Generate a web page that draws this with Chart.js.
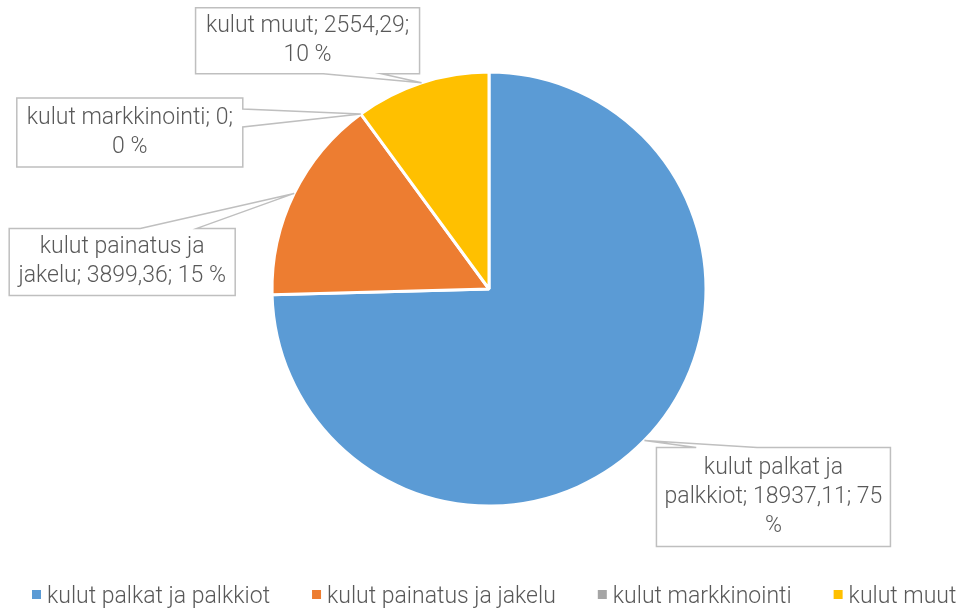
<!DOCTYPE html>
<html>
<head>
<meta charset="utf-8">
<script src="https://cdn.jsdelivr.net/npm/chart.js@4/dist/chart.umd.min.js"></script>
<style>
  html, body { margin: 0; padding: 0; background: #fff; }
  #wrap { width: 963px; height: 608px; position: relative; }
</style>
</head>
<body>
<div id="wrap"><canvas id="kulut"></canvas></div>
<script>
const labels = ['kulut palkat ja palkkiot', 'kulut painatus ja jakelu', 'kulut markkinointi', 'kulut muut'];
const values = [18937.11, 3899.36, 0, 2554.29];
const colors = ['#5B9BD5', '#ED7D31', '#A5A5A5', '#FFC000'];

// callout box placement relative to the slice anchor: dx, dy, w, h, which side the wedge sits on, wedge span along that side
const boxes = [
  { dx: 12, dy: 7, w: 234, h: 99, side: 'top', f0: 0.17, f1: 0.43, wrap: 222 },
  { dx: -285, dy: 35, w: 226, h: 67, side: 'top', f0: 0.58, f1: 0.83, wrap: 212 },
  { dx: -344, dy: -16, w: 226, h: 69, side: 'right', f0: 0.16, f1: 0.42, wrap: 210 },
  { dx: -226, dy: -75, w: 224, h: 66, side: 'bottom', f0: 0.57, f1: 0.83, wrap: 212 }
];

const FONT = 'Roboto, "Liberation Sans", sans-serif';
const TEXT = '#595959';
const FSIZE = 23;

function fmt(v) { return String(v).replace('.', ','); }

function wrapWords(ctx, text, maxW) {
  const words = text.split(' ');
  const lines = [];
  let cur = '';
  words.forEach(w => {
    const test = cur ? cur + ' ' + w : w;
    if (cur && ctx.measureText(test).width > maxW) { lines.push(cur); cur = w; }
    else cur = test;
  });
  if (cur) lines.push(cur);
  return lines;
}

// Excel style legend row along the bottom
const bottomLegend = {
  id: 'bottomLegend',
  afterDraw(chart) {
    const ctx = chart.ctx;
    ctx.save();
    ctx.font = '300 ' + FSIZE + 'px ' + FONT;
    ctx.textBaseline = 'alphabetic';
    ctx.textAlign = 'left';
    let x = 32;
    const gap = 42;
    labels.forEach((lab, i) => {
      ctx.fillStyle = colors[i];
      ctx.fillRect(x, 590, 9, 9);
      ctx.fillStyle = TEXT;
      ctx.fillText(lab, x + 15, 603);
      x += 15 + ctx.measureText(lab).width + gap;
    });
    ctx.restore();
  }
};

const callouts = {
  id: 'callouts',
  afterDatasetsDraw(chart) {
    const ctx = chart.ctx;
    const meta = chart.getDatasetMeta(0);
    const total = values.reduce((a, b) => a + b, 0);
    ctx.save();
    ctx.font = '300 ' + FSIZE + 'px ' + FONT;
    meta.data.forEach((arc, i) => {
      const b = boxes[i];
      const mid = (arc.startAngle + arc.endAngle) / 2;
      const ax = arc.x + Math.cos(mid) * arc.outerRadius;
      const ay = arc.y + Math.sin(mid) * arc.outerRadius;
      const x = ax + b.dx, y = ay + b.dy, w = b.w, h = b.h;

      ctx.beginPath();
      ctx.moveTo(x, y);
      if (b.side === 'top') {
        ctx.lineTo(x + w * b.f0, y); ctx.lineTo(ax, ay); ctx.lineTo(x + w * b.f1, y);
      }
      ctx.lineTo(x + w, y);
      if (b.side === 'right') {
        ctx.lineTo(x + w, y + h * b.f0); ctx.lineTo(ax, ay); ctx.lineTo(x + w, y + h * b.f1);
      }
      ctx.lineTo(x + w, y + h);
      if (b.side === 'bottom') {
        ctx.lineTo(x + w * b.f1, y + h); ctx.lineTo(ax, ay); ctx.lineTo(x + w * b.f0, y + h);
      }
      ctx.lineTo(x, y + h);
      ctx.closePath();
      ctx.fillStyle = '#ffffff';
      ctx.fill();
      ctx.strokeStyle = '#BFBFBF';
      ctx.lineWidth = 1.5;
      ctx.stroke();

      const pct = Math.round(values[i] / total * 100);
      const txt = labels[i] + '; ' + fmt(values[i]) + '; ' + pct + ' %';
      const lines = wrapWords(ctx, txt, b.wrap);
      const lh = 29;
      ctx.fillStyle = TEXT;
      ctx.textAlign = 'center';
      ctx.textBaseline = 'middle';
      const startY = y + h / 2 - (lines.length - 1) * lh / 2;
      lines.forEach((ln, k) => ctx.fillText(ln, x + w / 2, startY + k * lh));
    });
    ctx.restore();
  }
};

const canvas = document.getElementById('kulut');
const ctx = canvas.getContext('2d');

new Chart(ctx, {
  type: 'pie',
  data: {
    labels: labels,
    datasets: [{
      data: values,
      backgroundColor: colors,
      borderColor: '#ffffff',
      borderWidth: 3
    }]
  },
  options: {
    responsive: true,
    maintainAspectRatio: false,
    animation: false,
    radius: 217,
    layout: { padding: { top: 72, left: 15, right: 0, bottom: 102 } },
    plugins: {
      tooltip: { enabled: false },
      legend: { display: false }
    }
  },
  plugins: [callouts, bottomLegend]
});
</script>
</body>
</html>
